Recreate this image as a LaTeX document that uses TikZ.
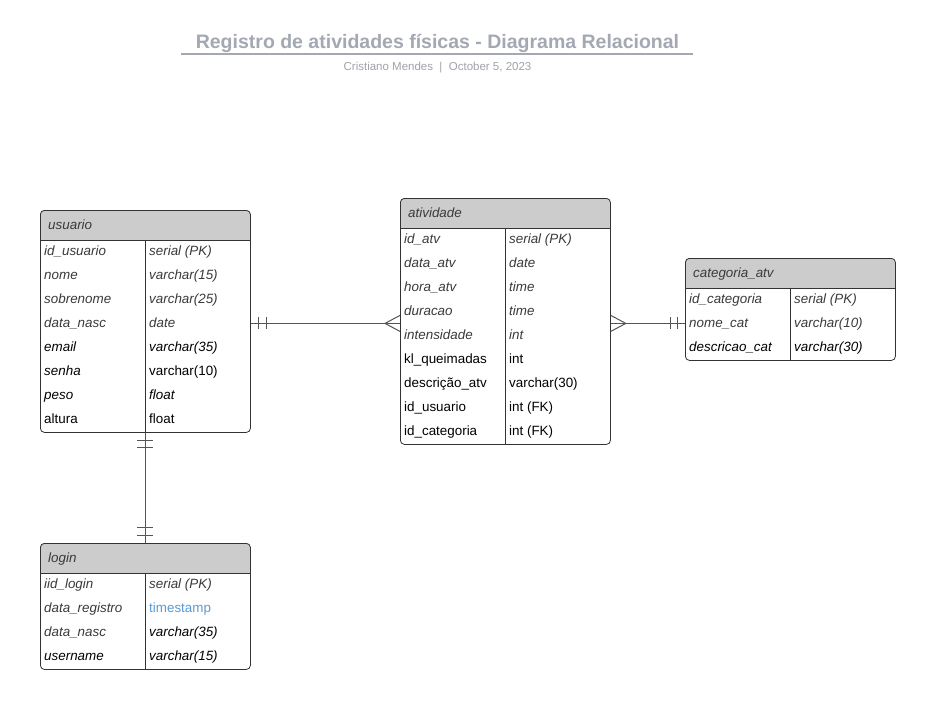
\documentclass[tikz,border=0pt]{standalone}
\usepackage{fontspec}
\setmainfont{Liberation Sans}
\usetikzlibrary{calc}
\definecolor{hdr}{HTML}{CCCCCC}
\definecolor{bord}{HTML}{333333}
\definecolor{txtg}{HTML}{3A3A3A}
\definecolor{ttl}{HTML}{A3A8B3}
\definecolor{subt}{HTML}{A0A3AA}
\definecolor{tsblue}{HTML}{5B9BD5}
\definecolor{lnk}{HTML}{555555}
\tikzset{
  tbl/.style={draw=bord, line width=0.8pt, rounded corners=4pt, anchor=north west, inner sep=0pt},
  cell/.style={anchor=base west, inner sep=0pt, font=\fontsize{13.4}{16}\selectfont},
  cg/.style={cell, font=\fontsize{13.4}{16}\selectfont\itshape, text=txtg},
  ci/.style={cell, font=\fontsize{13.4}{16}\selectfont\itshape, text=black},
  cu/.style={cell, text=black},
  cb/.style={cell, text=tsblue},
  hd/.style={cg},
  sep/.style={draw=bord, line width=0.8pt},
  conn/.style={draw=lnk, line width=1pt},
}
\begin{document}
\begin{tikzpicture}[x=1pt,y=1pt]
\useasboundingbox (0,0) rectangle (935,-705);
\fill[white] (0,0) rectangle (935,-705);

% title
\node[font=\fontsize{19.5}{22}\selectfont\bfseries, text=ttl, inner sep=0pt, anchor=base] (title) at (437.5,-48) {Registro de atividades físicas - Diagrama Relacional};
\coordinate (ul1) at (181,-54);
\coordinate (ul2) at (693,-54);
\draw[ttl, line width=1.2pt] (ul1) -- (ul2);
\node[font=\fontsize{11.5}{13}\selectfont, text=subt, inner sep=0pt, anchor=base] (subtitle) at (437.5,-70) {Cristiano Mendes~~|~~October 5, 2023};

% ---------- usuario ----------
\begin{scope}
\clip[rounded corners=4pt] (40,-210) rectangle (250,-432);
\fill[hdr] (40,-210) rectangle (250,-240);
\end{scope}
\draw[sep] (40,-240) -- (250,-240);
\draw[sep] (145,-240) -- (145,-432);
\node[tbl, minimum width=210, minimum height=222] (usuario) at (40,-210) {};
\node[hd] (usuario-h) at (48,-229) {usuario};
\foreach [count=\i] \sa/\ta/\sb/\tb in {
  cg/id\_usuario/cg/serial (PK),
  cg/nome/cg/varchar(15),
  cg/sobrenome/cg/varchar(25),
  cg/data\_nasc/cg/date,
  ci/email/ci/varchar(35),
  ci/senha/cu/varchar(10),
  ci/peso/ci/float,
  cu/altura/cu/float}{
  \node[\sa] (ua\i) at (44,{-255-24*(\i-1)}) {\ta};
  \node[\sb] (ub\i) at (149,{-255-24*(\i-1)}) {\tb};
}

% ---------- atividade ----------
\begin{scope}
\clip[rounded corners=4pt] (400,-198) rectangle (610,-444);
\fill[hdr] (400,-198) rectangle (610,-228);
\end{scope}
\draw[sep] (400,-228) -- (610,-228);
\draw[sep] (505,-228) -- (505,-444);
\node[tbl, minimum width=210, minimum height=246] (atividade) at (400,-198) {};
\node[hd] (atividade-h) at (408,-217) {atividade};
\foreach [count=\i] \sa/\ta/\sb/\tb in {
  cg/id\_atv/cg/serial (PK),
  cg/data\_atv/cg/date,
  cg/hora\_atv/cg/time,
  cg/duracao/cg/time,
  cg/intensidade/cg/int,
  cu/kl\_queimadas/cu/int,
  cu/descrição\_atv/cu/varchar(30),
  cu/id\_usuario/cu/int (FK),
  cu/id\_categoria/cu/int (FK)}{
  \node[\sa] (aa\i) at (404,{-243-24*(\i-1)}) {\ta};
  \node[\sb] (ab\i) at (509,{-243-24*(\i-1)}) {\tb};
}

% ---------- categoria_atv ----------
\begin{scope}
\clip[rounded corners=4pt] (685,-258) rectangle (895,-360);
\fill[hdr] (685,-258) rectangle (895,-288);
\end{scope}
\draw[sep] (685,-288) -- (895,-288);
\draw[sep] (790,-288) -- (790,-360);
\node[tbl, minimum width=210, minimum height=102] (categoria) at (685,-258) {};
\node[hd] (categoria-h) at (693,-277) {categoria\_atv};
\foreach [count=\i] \sa/\ta/\sb/\tb in {
  cg/id\_categoria/cg/serial (PK),
  cg/nome\_cat/cg/varchar(10),
  ci/descricao\_cat/ci/varchar(30)}{
  \node[\sa] (ca\i) at (689,{-303-24*(\i-1)}) {\ta};
  \node[\sb] (cb\i) at (794,{-303-24*(\i-1)}) {\tb};
}

% ---------- login ----------
\begin{scope}
\clip[rounded corners=4pt] (40,-543) rectangle (250,-669);
\fill[hdr] (40,-543) rectangle (250,-573);
\end{scope}
\draw[sep] (40,-573) -- (250,-573);
\draw[sep] (145,-573) -- (145,-669);
\node[tbl, minimum width=210, minimum height=126] (login) at (40,-543) {};
\node[hd] (login-h) at (48,-562) {login};
\foreach [count=\i] \sa/\ta/\sb/\tb in {
  cg/iid\_login/cg/serial (PK),
  cg/data\_registro/cb/timestamp,
  cg/data\_nasc/ci/varchar(35),
  ci/username/ci/varchar(15)}{
  \node[\sa] (la\i) at (44,{-588-24*(\i-1)}) {\ta};
  \node[\sb] (lb\i) at (149,{-588-24*(\i-1)}) {\tb};
}

% ---------- connectors ----------
% usuario -- atividade
\coordinate (uE) at ($(usuario.east)+(0,-2)$);
\coordinate (aW) at (atividade.west |- uE);
\draw[conn] (uE) -- (aW);
\draw[conn] ($(uE)+(8,6)$) -- ++(0,-12);
\draw[conn] ($(uE)+(16,6)$) -- ++(0,-12);
\draw[conn] ($(aW)+(0,8)$) -- ($(aW)+(-15,0)$) -- ($(aW)+(0,-8)$);

% atividade -- categoria
\coordinate (aE) at (atividade.east |- uE);
\coordinate (cW) at (categoria.west |- uE);
\draw[conn] (aE) -- (cW);
\draw[conn] ($(aE)+(0,8)$) -- ($(aE)+(15,0)$) -- ($(aE)+(0,-8)$);
\draw[conn] ($(cW)+(-8,6)$) -- ++(0,-12);
\draw[conn] ($(cW)+(-15,6)$) -- ++(0,-12);

% usuario -- login
\coordinate (uS) at (usuario.south -| 145,0);
\coordinate (lN) at (login.north -| 145,0);
\draw[conn] (uS) -- (lN);
\draw[conn] ($(uS)+(-8,-8)$) -- ++(16,0);
\draw[conn] ($(uS)+(-8,-15)$) -- ++(16,0);
\draw[conn] ($(lN)+(-8,8)$) -- ++(16,0);
\draw[conn] ($(lN)+(-8,16)$) -- ++(16,0);
\end{tikzpicture}
\end{document}
